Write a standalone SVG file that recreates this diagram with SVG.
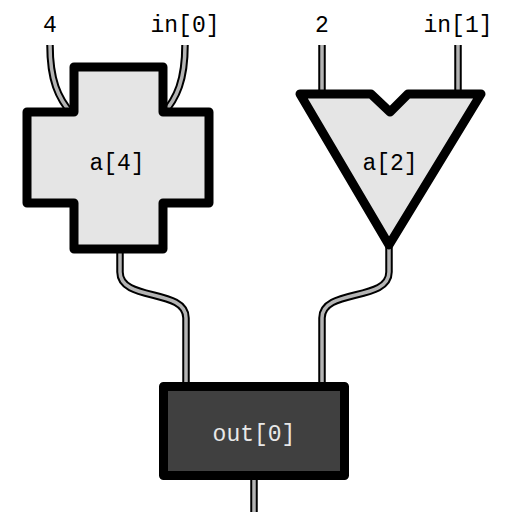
<svg xmlns="http://www.w3.org/2000/svg" width="512" height="512" viewBox="0 0 512 512">
<style>
.wo{fill:none;stroke:#000;stroke-width:7.5}
.wi{fill:none;stroke:#b4b4b4;stroke-width:3.5}
.sh{fill:#e5e5e5;stroke:#000;stroke-width:9;stroke-linejoin:round}
.lb{font-family:"Liberation Mono","DejaVu Sans Mono",monospace;font-size:23px;fill:#000;text-anchor:middle}
</style>
<rect width="512" height="512" fill="#fff"/>
<g id="connectors">
<path class="wo" d="M50,45 C50,80 58,98 72,114"/><path class="wi" d="M50,45 C50,80 58,98 72,114"/>
<path class="wo" d="M185,45 C185,80 177,98 163,114"/><path class="wi" d="M185,45 C185,80 177,98 163,114"/>
<path class="wo" d="M322,45 V94"/><path class="wi" d="M322,45 V94"/>
<path class="wo" d="M458,45 V94"/><path class="wi" d="M458,45 V94"/>
<path class="wo" d="M120,248 V272 C120,302 186,288 186,318 V388"/><path class="wi" d="M120,248 V272 C120,302 186,288 186,318 V388"/>
<path class="wo" d="M389,244 V272 C389,302 322,288 322,318 V388"/><path class="wi" d="M389,244 V272 C389,302 322,288 322,318 V388"/>
<path class="wo" d="M254,476 V512"/><path class="wi" d="M254,476 V512"/>
</g>
<g id="in0lbl"><text class="lb" x="185" y="32">in[0]</text></g>
<g id="n4lbl"><text class="lb" x="50" y="32">4</text></g>
<g id="n2lbl"><text class="lb" x="322" y="32">2</text></g>
<g id="in1lbl"><text class="lb" x="458" y="32">in[1]</text></g>
<g id="a4">
<path class="sh" d="M74,67 H163 V112 H209 V203 H163 V249 H74 V203 H27 V112 H74 Z"/>
<text class="lb" x="117" y="170">a[4]</text>
</g>
<g id="a2">
<path class="sh" d="M300,94 H371 L390,112 L408,94 H481 L389,245 Z"/>
<text class="lb" x="390" y="170">a[2]</text>
</g>
<g id="out0">
<rect x="163.5" y="386.5" width="181" height="89" fill="#404040" stroke="#000" stroke-width="9" stroke-linejoin="round"/>
<text class="lb" x="254" y="441" style="fill:#e8e8e8">out[0]</text>
</g>
</svg>
